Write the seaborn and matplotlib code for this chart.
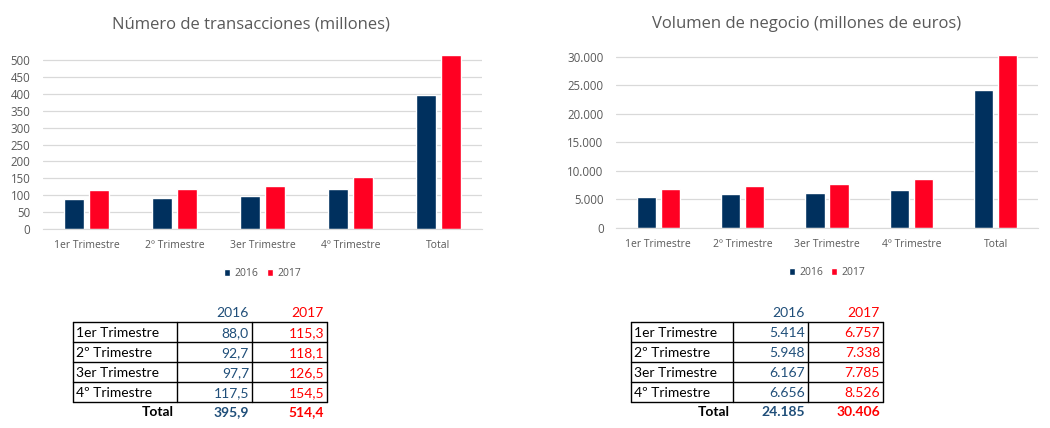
import pandas as pd
import seaborn as sns
import matplotlib.pyplot as plt
from matplotlib.ticker import FuncFormatter

categories = ["1er Trimestre", "2º Trimestre", "3er Trimestre", "4º Trimestre", "Total"]
years = ["2016", "2017"]
trans_2016 = [88.0, 92.7, 97.7, 117.5, 395.9]
trans_2017 = [115.3, 118.1, 126.5, 154.5, 514.4]
vol_2016 = [5414, 5948, 6167, 6656, 24185]
vol_2017 = [6757, 7338, 7785, 8526, 30406]
trans_ticks = [0, 50, 100, 150, 200, 250, 300, 350, 400, 450, 500]
vol_ticks = [0, 5000, 10000, 15000, 20000, 25000, 30000]

NAVY = "#00305E"
RED = "#FF0022"
GREY = "#595959"
BLUE_TXT = "#1F4E79"
RED_TXT = "#FF0000"

sns.set_style("white")
plt.rcParams["font.family"] = ["Open Sans", "DejaVu Sans"]


def es_miles(v, pos=None):
    return f"{v:,.0f}".replace(",", ".")


def es_decimal(v):
    return f"{v:.1f}".replace(".", ",")


def make_df(a, b):
    return pd.DataFrame({
        "cat": categories * 2,
        "year": [years[0]] * len(a) + [years[1]] * len(b),
        "val": a + b,
    })


fig = plt.figure(figsize=(10.5, 4.28), dpi=100)

W, H = 1050, 428


def px_axes(x0, x1, ytop, ybot):
    return fig.add_axes([x0 / W, (H - ybot) / H, (x1 - x0) / W, (ybot - ytop) / H])


ax1 = px_axes(43, 482, 55, 229)
ax2 = px_axes(616, 1038, 54, 228)

for ax, a, b, ticks, ylim, fmt in [
    (ax1, trans_2016, trans_2017, trans_ticks, 515, None),
    (ax2, vol_2016, vol_2017, vol_ticks, 30500, es_miles),
]:
    sns.barplot(data=make_df(a, b), x="cat", y="val", hue="year",
                palette=[NAVY, RED], width=0.57, gap=0.2, ax=ax, saturation=1)
    ax.set_ylim(0, ylim)
    ax.set_yticks(ticks)
    if fmt:
        ax.yaxis.set_major_formatter(FuncFormatter(fmt))
    ax.grid(axis="y", color="#D9D9D9", linewidth=0.9)
    ax.set_axisbelow(True)
    for s in ["top", "right", "left"]:
        ax.spines[s].set_visible(False)
    ax.spines["bottom"].set_color("#D9D9D9")
    ax.tick_params(axis="x", length=0, labelsize=7.5, labelcolor=GREY, pad=8)
    ax.tick_params(axis="y", length=0, labelsize=8.3, labelcolor=GREY, pad=9)
    ax.set_xlabel("")
    ax.set_ylabel("")
    ax.legend(loc="upper center", bbox_to_anchor=(0.5, -0.17), ncol=2, frameon=False,
              fontsize=7.5, labelcolor=GREY, handlelength=0.6, handleheight=0.6,
              handletextpad=0.4, columnspacing=0.8)

ov = fig.add_axes([0, 0, 1, 1])
ov.set_xlim(0, W)
ov.set_ylim(H, 0)
ov.axis("off")
ov.patch.set_alpha(0)

ov.text(251, 24, "Número de transacciones (millones)", fontsize=12, color=GREY,
        ha="center", va="center")
ov.text(807, 24, "Volumen de negocio (millones de euros)", fontsize=12, color=GREY,
        ha="center", va="center")

tfont = ["Lato", "DejaVu Sans"]


def draw_table(x0, c1, c2, c3, a, b, fmt):
    rows_top = 322
    rh = 20
    n = 4
    for i in range(n + 1):
        y = rows_top + i * rh
        ov.plot([x0, c3], [y, y], color="black", lw=1)
    for x in [x0, c1, c2, c3]:
        ov.plot([x, x], [rows_top, rows_top + n * rh], color="black", lw=1)
    ov.text(c2 - 3, 313, years[0], fontsize=10, color=BLUE_TXT, ha="right",
            va="center", family=tfont)
    ov.text(c3 - 3, 313, years[1], fontsize=10, color=RED_TXT, ha="right",
            va="center", family=tfont)
    for i in range(n):
        yc = rows_top + i * rh + rh / 2 + 1
        ov.text(x0 + 3, yc, categories[i], fontsize=10, color="black", ha="left",
                va="center", family=tfont)
        ov.text(c2 - 3, yc, fmt(a[i]), fontsize=10, color=BLUE_TXT, ha="right",
                va="center", family=tfont)
        ov.text(c3 - 3, yc, fmt(b[i]), fontsize=10, color=RED_TXT, ha="right",
                va="center", family=tfont)
    yt = rows_top + n * rh + 10
    ov.text(c1 - 3, yt, categories[n], fontsize=10, color="black", ha="right",
            va="center", weight="bold", family=tfont)
    ov.text(c2 - 3, yt, fmt(a[n]), fontsize=10, color=BLUE_TXT, ha="right",
            va="center", weight="bold", family=tfont)
    ov.text(c3 - 3, yt, fmt(b[n]), fontsize=10, color=RED_TXT, ha="right",
            va="center", weight="bold", family=tfont)


draw_table(73, 177, 252, 327, trans_2016, trans_2017, es_decimal)
draw_table(631, 733, 808, 883, vol_2016, vol_2017, es_miles)

fig.savefig("out.png", dpi=100, facecolor="white")
